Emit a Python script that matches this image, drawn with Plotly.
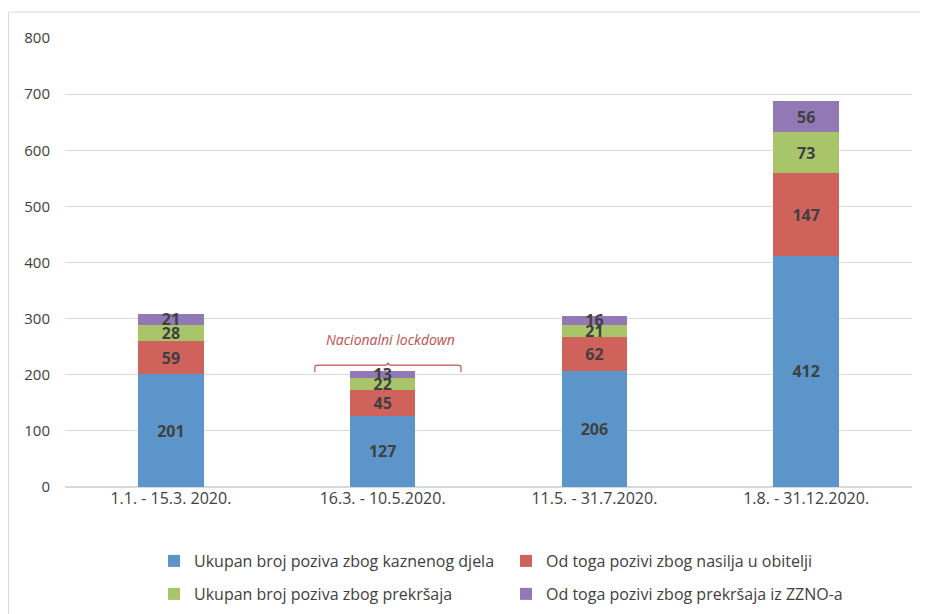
import plotly.graph_objects as go

categories = ["1.1. - 15.3. 2020.", "16.3. - 10.5.2020.", "11.5. - 31.7.2020.", "1.8. - 31.12.2020."]
series_names = [
    "Ukupan broj poziva zbog kaznenog djela",
    "Od toga pozivi zbog nasilja u obitelji",
    "Ukupan broj poziva zbog prekršaja",
    "Od toga pozivi zbog prekršaja iz ZZNO-a",
]
kazneno = [201, 127, 206, 412]
nasilje = [59, 45, 62, 147]
prekrsaji = [28, 22, 21, 73]
zzno = [21, 13, 16, 56]
colors = ["#5b95c9", "#d0625c", "#a8c56a", "#9279b5"]
y_ticks = [0, 100, 200, 300, 400, 500, 600, 700, 800]
annotation_text = "Nacionalni lockdown"

FONT = "Open Sans"
W, H = 920, 606
fig = go.Figure()
legend_ids = ["legend", "legend", "legend2", "legend2"]
for name, vals, col, lg in zip(series_names, [kazneno, nasilje, prekrsaji, zzno], colors, legend_ids):
    fig.add_trace(go.Bar(
        x=categories, y=vals, name=name, marker_color=col, marker_line_width=0,
        text=vals, texttemplate="<b>%{text}</b>", textposition="inside", textangle=0,
        insidetextanchor="middle", constraintext="none",
        textfont=dict(family=FONT, size=16, color="#404040"),
        width=0.31, legend=lg,
    ))

legend_common = dict(
    orientation="h", xref="container", yref="container", x=146 / W, xanchor="left",
    yanchor="middle", entrywidth=307, entrywidthmode="pixels", traceorder="normal",
    font=dict(family=FONT, size=16, color="#404040"), itemwidth=30, bgcolor="rgba(0,0,0,0)",
)

fig.update_layout(
    barmode="stack",
    width=W, height=H,
    margin=dict(l=57, r=16, t=30, b=127, autoexpand=False),
    paper_bgcolor="white", plot_bgcolor="white",
    font=dict(family=FONT, size=15, color="#404040"),
    showlegend=True,
    legend=dict(legend_common, y=1 - 553 / H),
    legend2=dict(legend_common, y=1 - 586 / H),
    xaxis=dict(showgrid=False, showline=False, ticks="", tickfont=dict(size=16, color="#404040")),
    yaxis=dict(range=[0, 800], tickvals=y_ticks, showgrid=True, gridcolor="#d9d9d9", gridwidth=1,
               zeroline=True, zerolinecolor="#d9d9d9", showline=False, ticks="",
               ticklabelstandoff=14, tickfont=dict(size=15, color="#404040")),
)

# chart border (top and left edges only are visible in the reference)
bx_left = (0.5 - 57) / 847
by_top = 1 + 26 / 449
fig.add_shape(type="line", xref="paper", yref="paper", x0=bx_left, x1=(W - 57) / 847,
              y0=by_top, y1=by_top, line=dict(color="#d9d9d9", width=1), layer="below")
fig.add_shape(type="line", xref="paper", yref="paper", x0=bx_left, x1=bx_left,
              y0=by_top, y1=-0.4, line=dict(color="#d9d9d9", width=1), layer="below")

# bracket for lockdown
bx0, bx1, bmid = 0.68, 1.37, 1.025
fig.add_shape(type="path", xref="x", yref="y",
              path=f"M {bx0},205 L {bx0},214 Q {bx0},217 {bx0+0.02},217 L {bmid-0.02},217 Q {bmid},217 {bmid},222 "
                   f"Q {bmid},217 {bmid+0.02},217 L {bx1-0.02},217 Q {bx1},217 {bx1},214 L {bx1},205",
              line=dict(color="#c0504d", width=1.2))
fig.add_annotation(x=1.035, y=263, xref="x", yref="y", text=f"<i>{annotation_text}</i>",
                   showarrow=False, font=dict(family=FONT, size=14, color="#c0504d"))

fig.write_html("out.html")
